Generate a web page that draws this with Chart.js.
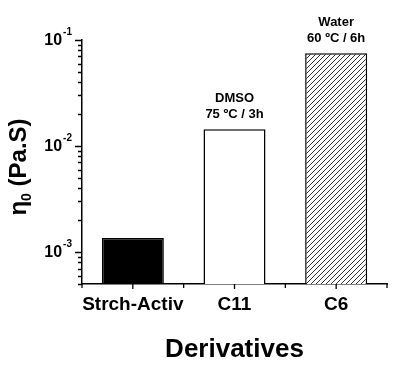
<!DOCTYPE html>
<html>
<head>
<meta charset="utf-8">
<script src="https://cdn.jsdelivr.net/npm/chart.js@4"></script>
<style>
  html, body { margin: 0; padding: 0; background: #fff; }
  canvas { display: block; }
</style>
</head>
<body>
<canvas id="myChart" width="417" height="373"></canvas>
<script>
// data
let categories = ['Strch-Activ', 'C11', 'C6']
let viscosity = [1.36e-3, 1.44e-2, 7.5e-2]
let conditions = [[], ['DMSO', '75 ºC / 3h'], ['Water', '60 ºC / 6h']]
let decadeTicks = [1e-3, 1e-2, 1e-1]
let decadeExponents = ['-3', '-2', '-1']
let yMin = 5e-4
let yMax = 1e-1

const FONT = '"Liberation Sans", Arial, sans-serif'

// diagonal hatching for the last bar
function hatch(){
    let c = document.createElement('canvas')
    c.width = 5; c.height = 5
    let g = c.getContext('2d')
    g.fillStyle = '#fff'
    g.fillRect(0, 0, 5, 5)
    g.strokeStyle = '#333'
    g.lineWidth = 1
    g.beginPath()
    g.moveTo(-1, 6); g.lineTo(6, -1)
    g.moveTo(-1, 1); g.lineTo(1, -1)
    g.moveTo(4, 6); g.lineTo(6, 4)
    g.stroke()
    return g.createPattern(c, 'repeat')
}

let axisDecor = {
    id: 'axisDecor',
    afterDraw(chart){
        let ctx = chart.ctx
        let area = chart.chartArea
        let y = chart.scales.y
        let x = chart.scales.x
        ctx.save()
        ctx.strokeStyle = '#000'
        ctx.lineWidth = 1.3

        // y ticks: decades long, minors short
        let minors = []
        for (let d = 1e-4; d < yMax; d *= 10) {
            for (let k = 2; k <= 9; k++) {
                let v = d * k
                if (v >= yMin && v < yMax) minors.push(v)
            }
        }
        ctx.beginPath()
        decadeTicks.forEach(v => {
            let p = Math.round(y.getPixelForValue(v)) + 0.5
            ctx.moveTo(area.left - 7, p); ctx.lineTo(area.left, p)
        })
        minors.forEach(v => {
            let p = Math.round(y.getPixelForValue(v)) + 0.5
            ctx.moveTo(area.left - 4, p); ctx.lineTo(area.left, p)
        })
        // x ticks at centres and boundaries
        categories.forEach((c, i) => {
            let p = x.getPixelForValue(i)
            ctx.moveTo(p, area.bottom); ctx.lineTo(p, area.bottom + 5)
        })
        let half = (x.getPixelForValue(1) - x.getPixelForValue(0)) / 2
        for (let i = 0; i <= categories.length; i++) {
            let p = x.getPixelForValue(0) - half + i * 2 * half
            ctx.moveTo(p, area.bottom); ctx.lineTo(p, area.bottom + 4)
        }
        ctx.stroke()

        // y tick labels 10^n
        ctx.fillStyle = '#000'
        ctx.textBaseline = 'middle'
        decadeTicks.forEach((v, i) => {
            let p = y.getPixelForValue(v)
            ctx.font = 'bold 10px ' + FONT
            let ew = ctx.measureText(decadeExponents[i]).width
            let right = area.left - 10
            ctx.textAlign = 'left'
            ctx.fillText(decadeExponents[i], right - ew, p - 8)
            ctx.font = 'bold 16px ' + FONT
            ctx.textAlign = 'right'
            ctx.fillText('10', right - ew - 1, p + 1)
        })

        // x tick labels
        ctx.font = 'bold 19px ' + FONT
        ctx.textAlign = 'center'
        ctx.textBaseline = 'alphabetic'
        categories.forEach((c, i) => {
            ctx.fillText(c, x.getPixelForValue(i), area.bottom + 26)
        })

        // axis titles
        ctx.font = 'bold 26px ' + FONT
        ctx.fillText('Derivatives', (area.left + area.right) / 2, 357)

        ctx.save()
        ctx.translate(26, 167)
        ctx.rotate(-Math.PI / 2)
        ctx.font = 'bold 24px ' + FONT
        let w1 = ctx.measureText('η').width
        ctx.font = 'bold 14px ' + FONT
        let w2 = ctx.measureText('0').width
        ctx.font = 'bold 24px ' + FONT
        let w3 = ctx.measureText(' (Pa.S)').width
        let start = -(w1 + w2 + w3) / 2
        ctx.textAlign = 'left'
        ctx.fillText('η', start, 0)
        ctx.font = 'bold 14px ' + FONT
        ctx.fillText('0', start + w1, 5)
        ctx.font = 'bold 24px ' + FONT
        ctx.fillText(' (Pa.S)', start + w1 + w2, 0)
        ctx.restore()

        // treatment notes above the bars
        ctx.font = 'bold 13px ' + FONT
        ctx.textAlign = 'center'
        let meta = chart.getDatasetMeta(0)
        conditions.forEach((lines, i) => {
            let bar = meta.data[i]
            lines.forEach((t, j) => {
                let yy = bar.y - 11 - (lines.length - 1 - j) * 16
                ctx.fillText(t, bar.x, yy)
            })
        })
        ctx.restore()
    }
}

function drawGraph(){
var ctx = document.getElementById('myChart').getContext('2d');
var chart = new Chart(ctx, {
    type: 'bar',
    data: {
        labels: categories,
        datasets: [{
            data: viscosity,
            backgroundColor: ['#000', '#fff', hatch()],
            borderColor: '#000',
            borderWidth: 1.5,
            borderSkipped: 'bottom',
            barPercentage: 0.61,
            categoryPercentage: 1
        }]
    },
    options: {
        responsive: false,
        animation: false,
        layout: { padding: { left: 82, top: 40, right: 30, bottom: 89 } },
        plugins: { legend: { display: false }, tooltip: { enabled: false } },
        scales: {
            x: {
                grid: { display: false, drawTicks: false },
                ticks: { display: false },
                border: { display: true, color: '#000', width: 1.5 }
            },
            y: {
                type: 'logarithmic',
                min: yMin,
                max: yMax,
                grid: { display: false, drawTicks: false },
                ticks: { display: false },
                border: { display: true, color: '#000', width: 1.5 }
            }
        }
    },
    plugins: [axisDecor]
});
}

drawGraph()
</script>
</body>
</html>
